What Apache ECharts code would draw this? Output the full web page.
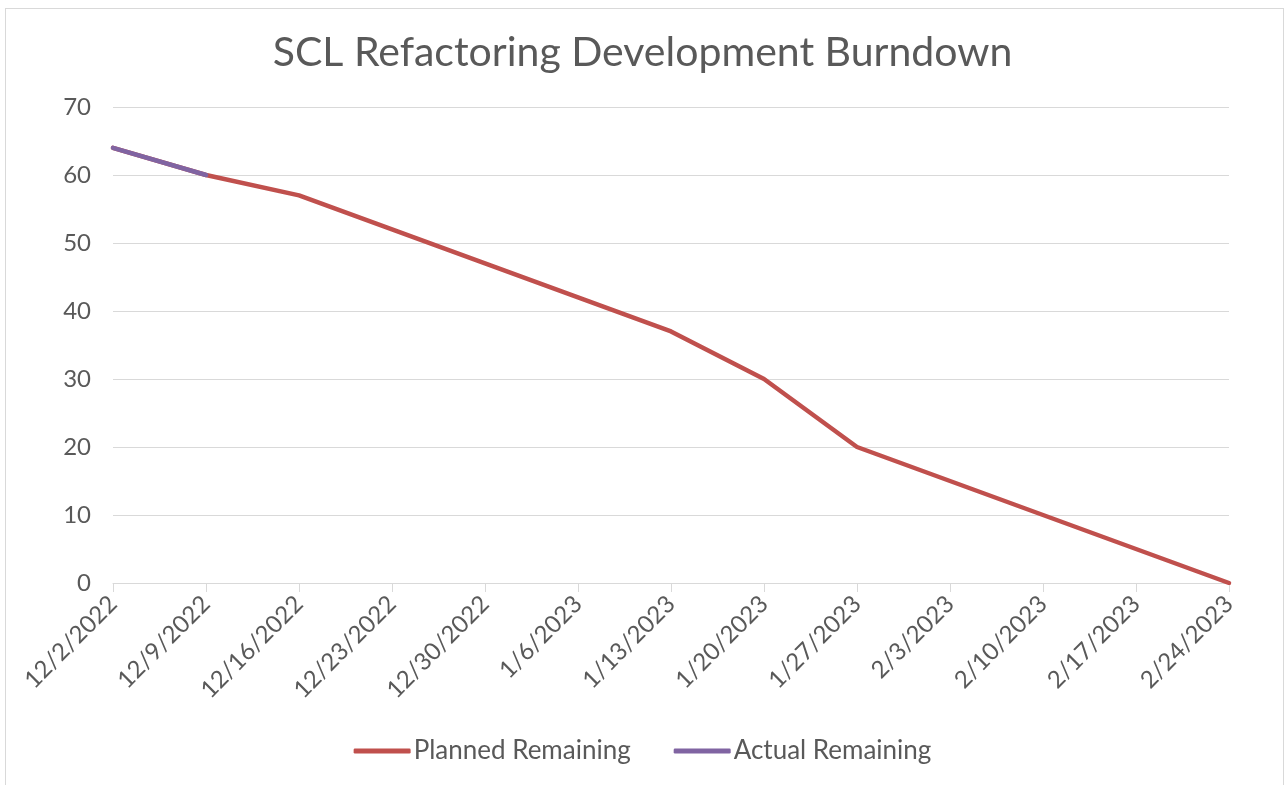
<!DOCTYPE html>
<html>
<head>
<meta charset="utf-8">
<script src="https://cdn.jsdelivr.net/npm/echarts@6/dist/echarts.min.js"></script>
<style>
    html, body { margin: 0; padding: 0; background: #fff; }
    #chart { width: 1285px; height: 785px; }
    #frame { position: absolute; left: 5px; top: 8px; width: 1277px; height: 790px;
             border: 1px solid #d9d9d9; pointer-events: none; }
</style>
</head>
<body>
<div id="chart"></div>
<div id="frame"></div>
<script>
// 数据
var dates = ['12/2/2022', '12/9/2022', '12/16/2022', '12/23/2022', '12/30/2022', '1/6/2023',
    '1/13/2023', '1/20/2023', '1/27/2023', '2/3/2023', '2/10/2023', '2/17/2023', '2/24/2023'];
var planned = [64, 60, 57, 52, 47, 42, 37, 30, 20, 15, 10, 5, 0];
var actual = [64, 60];

var font = 'Lato, "DejaVu Sans", sans-serif';
var textColor = '#595959';

var myChart = echarts.init(document.getElementById('chart'));
myChart.setOption({
    animation: false,
    textStyle: { fontFamily: font },
    title: {
        text: 'SCL Refactoring Development Burndown',
        left: 'center',
        top: 27,
        textStyle: { fontSize: 41, fontWeight: 'normal', color: textColor, fontFamily: font }
    },
    legend: {
        top: 733,
        left: 'center',
        itemWidth: 57,
        itemHeight: 5,
        itemGap: 43,
        icon: 'roundRect',
        textStyle: { fontSize: 26, color: textColor, padding: [0, 0, 0, -2] },
        data: ['Planned Remaining', 'Actual Remaining']
    },
    grid: { left: 113, right: 56, top: 107, bottom: 202 },
    xAxis: {
        type: 'category',
        boundaryGap: false,
        data: dates,
        axisLine: { lineStyle: { color: '#d9d9d9', width: 1 } },
        axisTick: { show: true, length: 9, lineStyle: { color: '#d9d9d9' } },
        axisLabel: { rotate: 45, fontSize: 24, color: textColor, margin: 17 }
    },
    yAxis: {
        type: 'value',
        min: 0,
        max: 70,
        interval: 10,
        axisLine: { show: false },
        axisTick: { show: false },
        axisLabel: { fontSize: 24, color: textColor, margin: 22 },
        splitLine: { lineStyle: { color: '#d9d9d9', width: 1 } }
    },
    series: [
        {
            name: 'Planned Remaining',
            type: 'line',
            data: planned,
            showSymbol: false,
            symbol: 'none',
            color: '#c0504d',
            lineStyle: { width: 4.5, color: '#c0504d', cap: 'round' }
        },
        {
            name: 'Actual Remaining',
            type: 'line',
            data: actual,
            showSymbol: false,
            symbol: 'none',
            color: '#8064a2',
            lineStyle: { width: 4.5, color: '#8064a2', cap: 'round' }
        }
    ]
});
</script>
</body>
</html>
